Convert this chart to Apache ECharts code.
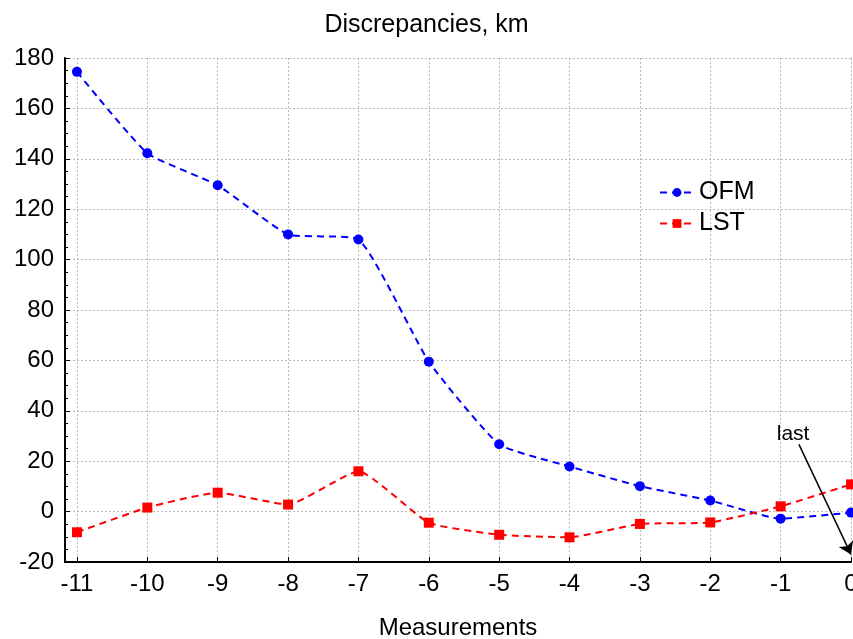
<!DOCTYPE html>
<html>
<head>
<meta charset="utf-8">
<script src="https://cdn.jsdelivr.net/npm/echarts@6/dist/echarts.min.js"></script>
<style>
  html, body { margin: 0; padding: 0; background: #fff; }
  #main { width: 853px; height: 639px; }
</style>
</head>
<body>
<div id="main"></div>
<script>
var measurements = [-11, -10, -9, -8, -7, -6, -5, -4, -3, -2, -1, 0];
var ofm = [174.5, 142.2, 129.5, 110, 108, 59.5, 26.7, 17.9, 10.1, 4.4, -2.8, -0.4];
var lst = [-8.2, 1.6, 7.5, 2.8, 16, -4.4, -9.2, -10.2, -4.9, -4.3, 2.1, 10.8];

var chart = echarts.init(document.getElementById('main'), null, { renderer: 'canvas' });

function pairs(vals) {
  return measurements.map(function (m, i) { return [m, vals[i]]; });
}

var font = 'Liberation Sans, Arial, sans-serif';

var option = {
  animation: false,
  title: {
    text: 'Discrepancies, km',
    left: 'center',
    top: 8,
    textStyle: { fontFamily: font, fontSize: 25, fontWeight: 'normal', color: '#000' }
  },
  legend: {
    data: ['OFM', 'LST'],
    orient: 'vertical',
    left: 654,
    top: 175,
    itemWidth: 34,
    itemHeight: 11,
    itemGap: 6,
    textStyle: { fontFamily: font, fontSize: 25, color: '#000' }
  },
  grid: { left: 65, right: 2, top: 58, bottom: 77, containLabel: false, outerBoundsMode: 'none' },
  xAxis: {
    type: 'value',
    min: -11.17,
    max: 0,
    name: 'Measurements',
    nameLocation: 'middle',
    nameGap: 54,
    nameTextStyle: { fontFamily: font, fontSize: 24, color: '#000' },
    axisLine: { onZero: false, lineStyle: { color: '#000', width: 2 } },
    axisTick: { show: true, inside: true, length: 5, customValues: measurements, lineStyle: { color: '#000' } },
    minorTick: { show: false },
    axisLabel: { customValues: measurements, fontFamily: font, fontSize: 24, color: '#000', margin: 10 },
    splitLine: { show: true, lineStyle: { color: '#bbb', type: [2, 2], width: 1 } }
  },
  yAxis: {
    type: 'value',
    min: -20,
    max: 180,
    interval: 20,
    axisLine: { show: true, onZero: false, lineStyle: { color: '#000', width: 2 } },
    axisTick: { show: true, inside: true, length: 5, lineStyle: { color: '#000' } },
    minorTick: { show: true, splitNumber: 4, length: 3, lineStyle: { color: '#000' } },
    axisLabel: { fontFamily: font, fontSize: 24, color: '#000', margin: 11 },
    splitLine: { show: true, lineStyle: { color: '#bbb', type: [2, 2], width: 1 } }
  },
  series: [
    {
      name: 'OFM',
      type: 'line',
      data: pairs(ofm),
      smooth: 0.15,
      symbol: 'circle',
      symbolSize: 10,
      itemStyle: { color: '#0000ff' },
      lineStyle: { color: '#0000ff', width: 2, type: [7, 5] },
      clip: false,
      markLine: {
        silent: true,
        symbol: ['none', 'arrow'],
        symbolSize: 12,
        lineStyle: { color: '#000', width: 1.5, type: 'solid' },
        label: {
          show: true,
          position: 'start',
          formatter: 'last',
          fontFamily: font,
          fontSize: 21,
          color: '#000',
          distance: 2,
          offset: [-5, 2]
        },
        data: [[{ coord: [-0.74, 26.7] }, { coord: [0, -17] }]]
      }
    },
    {
      name: 'LST',
      type: 'line',
      data: pairs(lst),
      smooth: 0.15,
      symbol: 'rect',
      symbolSize: 10,
      itemStyle: { color: '#ff0000' },
      lineStyle: { color: '#ff0000', width: 2, type: [7, 5] },
      clip: false
    }
  ]
};

chart.setOption(option);
</script>
</body>
</html>
